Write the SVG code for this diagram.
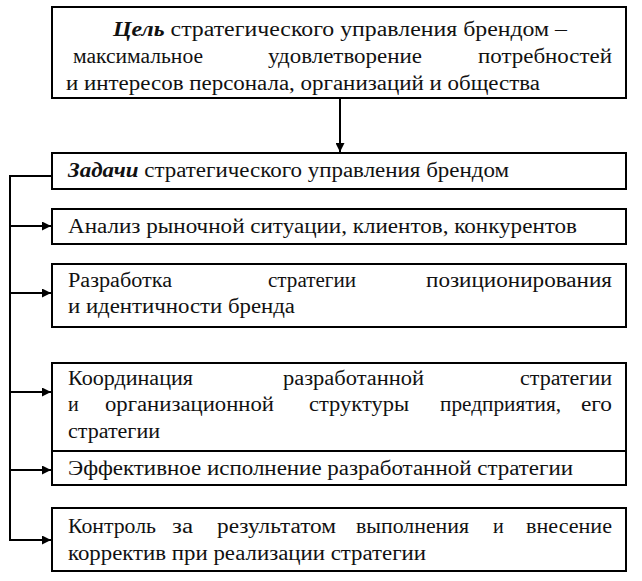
<svg xmlns="http://www.w3.org/2000/svg" width="642" height="581" viewBox="0 0 642 581">
<style>
.box{fill:#fff;stroke:#000;stroke-width:2}
.t{font-family:"Liberation Serif","Times New Roman","DejaVu Serif",serif;font-size:20px;fill:#111}
.b{font-weight:bold;font-style:italic}
.c{stroke:#000;stroke-width:2;fill:none}
</style>
<defs>
<marker id="ah" viewBox="0 0 10 10" refX="10" refY="5" markerWidth="5" markerHeight="4.5" orient="auto" markerUnits="strokeWidth">
<path d="M0,0 L10,5 L0,10 z" fill="#000"/>
</marker>
</defs>
<rect width="642" height="581" fill="#fff"/>
<g id="connectors">
<path class="c" d="M340,98 V152" marker-end="url(#ah)"/>
<path class="c" d="M52,176 H10 V540"/>
<path class="c" d="M10,226 H51" marker-end="url(#ah)"/>
<path class="c" d="M10,293 H51" marker-end="url(#ah)"/>
<path class="c" d="M10,392 H51" marker-end="url(#ah)"/>
<path class="c" d="M10,470 H51" marker-end="url(#ah)"/>
<path class="c" d="M9,540 H51" marker-end="url(#ah)"/>
</g>
<g id="goal">
<rect class="box" x="52" y="7" width="574" height="91"/>
<text class="t" x="113" y="36" textLength="454" lengthAdjust="spacingAndGlyphs"><tspan class="b">Цель</tspan> стратегического управления брендом –</text>
<text class="t" x="73" y="63" textLength="130" lengthAdjust="spacingAndGlyphs">максимальное</text>
<text class="t" x="268" y="63" textLength="154" lengthAdjust="spacingAndGlyphs">удовлетворение</text>
<text class="t" x="478" y="63" textLength="134" lengthAdjust="spacingAndGlyphs">потребностей</text>
<text class="t" x="66" y="90" textLength="474" lengthAdjust="spacingAndGlyphs">и интересов персонала, организаций и общества</text>
</g>
<g id="tasks">
<rect class="box" x="52" y="153" width="574" height="36"/>
<text class="t" x="68" y="177" textLength="441" lengthAdjust="spacingAndGlyphs"><tspan class="b">Задачи</tspan> стратегического управления брендом</text>
</g>
<g id="analysis">
<rect class="box" x="52" y="209" width="574" height="35"/>
<text class="t" x="68" y="233" textLength="509" lengthAdjust="spacingAndGlyphs">Анализ рыночной ситуации, клиентов, конкурентов</text>
</g>
<g id="development">
<rect class="box" x="52" y="264" width="574" height="63"/>
<text class="t" x="68" y="287" textLength="104" lengthAdjust="spacingAndGlyphs">Разработка</text>
<text class="t" x="268" y="287" textLength="88" lengthAdjust="spacingAndGlyphs">стратегии</text>
<text class="t" x="426" y="287" textLength="186" lengthAdjust="spacingAndGlyphs">позиционирования</text>
<text class="t" x="68" y="313" textLength="227" lengthAdjust="spacingAndGlyphs">и идентичности бренда</text>
</g>
<g id="coordination">
<rect class="box" x="52" y="363" width="574" height="88"/>
<text class="t" x="68" y="385" textLength="125" lengthAdjust="spacingAndGlyphs">Координация</text>
<text class="t" x="283" y="385" textLength="141" lengthAdjust="spacingAndGlyphs">разработанной</text>
<text class="t" x="520" y="385" textLength="92" lengthAdjust="spacingAndGlyphs">стратегии</text>
<text class="t" x="68" y="411">и</text>
<text class="t" x="105" y="411" textLength="169" lengthAdjust="spacingAndGlyphs">организационной</text>
<text class="t" x="309" y="411" textLength="100" lengthAdjust="spacingAndGlyphs">структуры</text>
<text class="t" x="440" y="411" textLength="121" lengthAdjust="spacingAndGlyphs">предприятия,</text>
<text class="t" x="581" y="411" textLength="31" lengthAdjust="spacingAndGlyphs">его</text>
<text class="t" x="68" y="438" textLength="92" lengthAdjust="spacingAndGlyphs">стратегии</text>
</g>
<g id="execution">
<rect class="box" x="52" y="451" width="574" height="34"/>
<text class="t" x="68" y="475" textLength="505" lengthAdjust="spacingAndGlyphs">Эффективное исполнение разработанной стратегии</text>
</g>
<g id="control">
<rect class="box" x="52" y="508" width="574" height="63"/>
<text class="t" x="68" y="533" textLength="88" lengthAdjust="spacingAndGlyphs">Контроль</text>
<text class="t" x="172" y="533" textLength="21" lengthAdjust="spacingAndGlyphs">за</text>
<text class="t" x="217" y="533" textLength="119" lengthAdjust="spacingAndGlyphs">результатом</text>
<text class="t" x="356" y="533" textLength="113" lengthAdjust="spacingAndGlyphs">выполнения</text>
<text class="t" x="493" y="533">и</text>
<text class="t" x="526" y="533" textLength="86" lengthAdjust="spacingAndGlyphs">внесение</text>
<text class="t" x="68" y="560" textLength="358" lengthAdjust="spacingAndGlyphs">корректив при реализации стратегии</text>
</g>
</svg>
